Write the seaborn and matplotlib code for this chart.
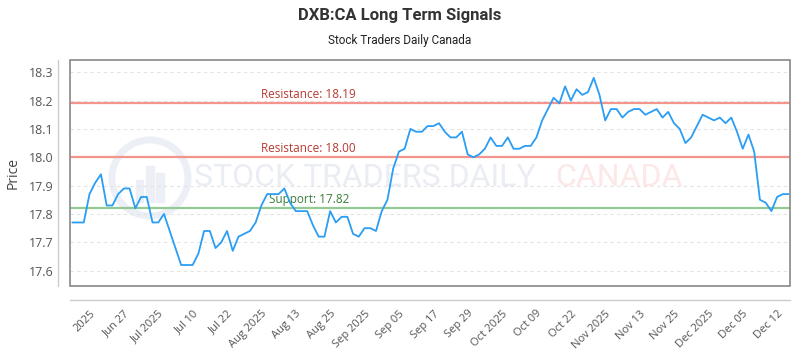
import matplotlib
matplotlib.use("Agg")
import matplotlib.pyplot as plt
import matplotlib.transforms as mtransforms
from matplotlib.patches import Rectangle
import pandas as pd
import seaborn as sns

# closing prices, one per session
prices = [
    17.77, 17.77, 17.77, 17.87, 17.91, 17.94, 17.83, 17.83, 17.87, 17.89,
    17.89, 17.82, 17.86, 17.86, 17.77, 17.77, 17.80, 17.74, 17.68, 17.62,
    17.62, 17.62, 17.66, 17.74, 17.74, 17.68, 17.70, 17.74, 17.67, 17.72,
    17.73, 17.74, 17.77, 17.83, 17.87, 17.87, 17.87, 17.89, 17.84, 17.81,
    17.81, 17.81, 17.76, 17.72, 17.72, 17.81, 17.77, 17.79, 17.79, 17.73,
    17.72, 17.75, 17.75, 17.74, 17.81, 17.85, 17.96, 18.02, 18.03, 18.10,
    18.09, 18.09, 18.11, 18.11, 18.12, 18.09, 18.07, 18.07, 18.09, 18.01,
    18.00, 18.01, 18.03, 18.07, 18.04, 18.04, 18.07, 18.03, 18.03, 18.04,
    18.04, 18.07, 18.13, 18.17, 18.21, 18.19, 18.25, 18.20, 18.24, 18.22,
    18.23, 18.28, 18.22, 18.13, 18.17, 18.17, 18.14, 18.16, 18.17, 18.17,
    18.15, 18.16, 18.17, 18.14, 18.16, 18.12, 18.10, 18.05, 18.07, 18.11,
    18.15, 18.14, 18.13, 18.14, 18.12, 18.14, 18.09, 18.03, 18.08, 18.02,
    17.85, 17.84, 17.81, 17.86, 17.87, 17.87,
]

tick_labels = [
    "2025", "Jun 27", "Jul 2025", "Jul 10", "Jul 22", "Aug 2025", "Aug 13",
    "Aug 25", "Sep 2025", "Sep 05", "Sep 17", "Sep 29", "Oct 2025", "Oct 09",
    "Oct 22", "Nov 2025", "Nov 13", "Nov 25", "Dec 2025", "Dec 05", "Dec 12",
]
tick_pos = list(range(3, 3 + 6 * len(tick_labels), 6))

resistance = [18.19, 18.00]
support = [17.82]
y_ticks = [17.6, 17.7, 17.8, 17.9, 18.0, 18.1, 18.2, 18.3]

sns.set_style("white")
plt.rcParams["font.family"] = ["Open Sans", "DejaVu Sans"]

df = pd.DataFrame({"session": range(len(prices)), "price": prices})

fig = plt.figure(figsize=(8, 3.5), dpi=100)
ax = fig.add_axes([70 / 800, 64 / 350, 720 / 800, 226 / 350])

# spines first: set_position resets the tick labels
for side in ["top", "right"]:
    ax.spines[side].set_visible(False)
ax.spines["left"].set_position(("outward", 9))
ax.spines["bottom"].set_position(("outward", 10))
for side in ["left", "bottom"]:
    ax.spines[side].set_color("#cccccc")
    ax.spines[side].set_linewidth(1)

# watermark
ax.text(0.41, 0.478, "STOCK TRADERS DAILY", transform=ax.transAxes,
        ha="center", va="center", fontsize=23, color="#eaedf3",
        family="Roboto", zorder=0)
ax.text(0.762, 0.478, "CANADA", transform=ax.transAxes, ha="center",
        va="center", fontsize=23, color="#fde8e8", family="Roboto", zorder=0)
ax.scatter([0.111], [0.478], s=3000, transform=ax.transAxes,
           facecolors="none", edgecolors="#eceff5", linewidths=5, zorder=0)
for bx, bh in [(0.092, 0.10), (0.106, 0.16), (0.12, 0.13)]:
    ax.add_patch(Rectangle((bx, 0.37), 0.010, bh, transform=ax.transAxes,
                           color="#eceff5", zorder=0))

for lv in y_ticks:
    ax.axhline(lv, color="#e3e3e3", lw=0.8, ls=(0, (3, 3)), zorder=1)

text_tr = mtransforms.blended_transform_factory(ax.transAxes, ax.transData)
for lv in resistance:
    ax.axhline(lv, color="#f4948c", lw=1.6, zorder=2)
    ax.text(0.265, lv + 0.008, f"Resistance: {lv:.2f}", transform=text_tr,
            color="#b83a32", fontsize=8.5, va="bottom", ha="left", zorder=3)
for lv in support:
    ax.axhline(lv, color="#93c993", lw=1.6, zorder=2)
    ax.text(0.276, lv + 0.008, f"Support: {lv:.2f}", transform=text_tr,
            color="#3a7d3a", fontsize=8.5, va="bottom", ha="left", zorder=3)

sns.lineplot(data=df, x="session", y="price", ax=ax, color="#2a9df4",
             lw=1.3, zorder=4)

ax.set_xlim(-0.4, 125.25)
ax.set_ylim(17.546, 18.343)
ax.set_yticks(y_ticks)
ax.set_yticklabels([f"{v:.1f}" for v in y_ticks])
ax.set_xticks(tick_pos)
ax.set_xticklabels(tick_labels, rotation=45, ha="right",
                   rotation_mode="anchor")
ax.tick_params(axis="x", length=0, pad=6, labelsize=8, labelcolor="#555555")
ax.tick_params(axis="y", length=0, pad=3, labelsize=9, labelcolor="#555555")
ax.set_xlabel("")
ax.set_ylabel("Price", fontsize=10, color="#444444", labelpad=6)

# plot frame
ax.add_patch(Rectangle((0, 0), 1, 1, transform=ax.transAxes, fill=False,
                       edgecolor="#888888", lw=1.2, clip_on=False, zorder=5))

fig.text(0.5, 0.955, "DXB:CA Long Term Signals", ha="center", va="center",
         fontsize=12, fontweight="bold", color="#333333", family="Roboto")
fig.text(0.5, 0.885, "Stock Traders Daily Canada", ha="center", va="center",
         fontsize=8.5, color="#222222", family="Roboto")

fig.savefig("out.png", dpi=100)
